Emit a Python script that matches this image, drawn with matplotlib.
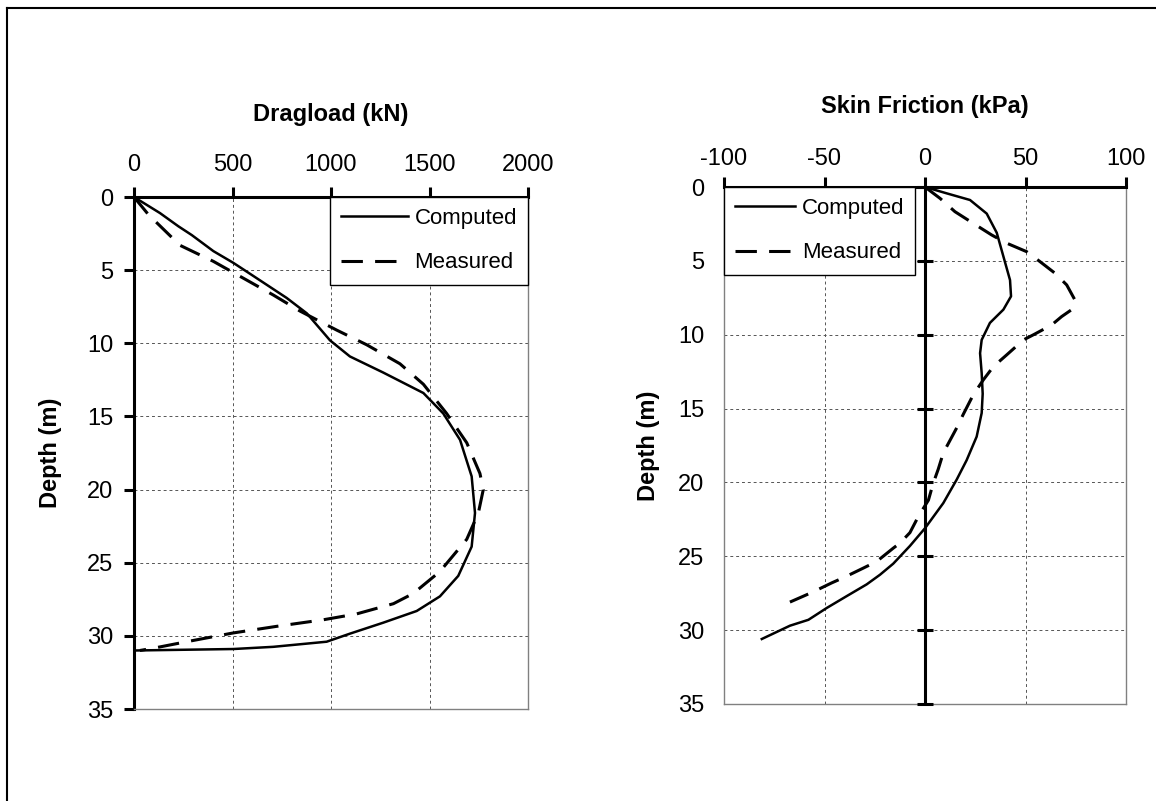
import matplotlib
matplotlib.use("Agg")
import matplotlib.pyplot as plt
from matplotlib.lines import Line2D

plt.rcParams["font.family"] = ["Liberation Sans", "DejaVu Sans"]
plt.rcParams["axes.unicode_minus"] = False

# dragload (kN) vs depth (m)
drag_comp_depth = [0, 1.1, 2.0, 2.6, 3.7, 4.5, 5.4, 6.9, 7.95, 9.8, 10.9, 12.0, 13.4, 14.8,
                   16.6, 19.1, 21.6, 23.9, 25.9, 27.3, 28.3, 29.1, 29.85, 30.4, 30.75, 30.9, 31.0]
drag_comp_load = [0, 132, 225, 293, 403, 504, 606, 775, 877, 995, 1096, 1265, 1469, 1570,
                  1655, 1714, 1731, 1714, 1646, 1553, 1435, 1265, 1096, 978, 707, 504, 5]
drag_meas_depth = [0, 1.2, 3.3, 4.4, 5.55, 6.7, 7.8, 9.1, 10.1, 11.4, 12.8, 14.8, 16.8, 18.9,
                   20.0, 21.6, 23.4, 25.6, 27.1, 27.8, 28.5, 28.9, 29.35, 29.8, 30.4, 30.8, 31.0]
drag_meas_load = [0, 73, 233, 403, 555, 707, 843, 1029, 1181, 1350, 1469, 1587, 1689, 1756,
                  1773, 1748, 1689, 1553, 1418, 1317, 1130, 961, 724, 504, 267, 115, 30]

# skin friction (kPa) vs depth (m)
fric_comp_depth = [0, 0.43, 0.88, 1.8, 3.1, 4.7, 6.3, 7.4, 8.3, 9.2, 10.35, 11.25, 12.6, 14.0,
                   15.3, 16.9, 18.5, 19.8, 21.4, 23.1, 24.3, 25.5, 26.25, 26.9, 27.7, 28.5,
                   29.3, 29.7, 30.6]
fric_comp_val = [0, 10.8, 22.4, 30.7, 35.7, 39, 42.3, 42.8, 39, 32.3, 28.2, 27.4, 28.2, 28.7,
                 28.2, 25.7, 20.7, 15.8, 9.1, 0, -7.5, -15.8, -22.4, -29, -39, -48.9,
                 -58, -67.2, -81.2]
fric_meas_depth = [0, 0.77, 1.67, 2.46, 3.25, 3.8, 4.38, 5.05, 5.84, 6.63, 7.65, 8.3, 8.77,
                   9.34, 10.0, 10.35, 11.37, 12.16, 13.06, 14.07, 15.4, 16.3, 18.0, 19.1,
                   20.05, 21.2, 22.3, 23.4, 24.1, 24.45, 25.35, 25.8, 26.4, 26.8, 27.4,
                   27.7, 28.1]
fric_meas_val = [0, 7.5, 14.9, 24, 33.2, 40.6, 50.6, 57.2, 64.7, 70.5, 74.6, 73, 68, 63, 54,
                 49, 40.6, 34, 29, 24, 19, 15.8, 9.1, 6.6, 4.1, 1.7, -3.3, -7.5, -12.4,
                 -15.8, -24, -30.7, -39.8, -46.4, -55.5, -60.5, -67.2]

depth_ticks = [0, 5, 10, 15, 20, 25, 30, 35]
drag_ticks = [0, 500, 1000, 1500, 2000]
fric_ticks = [-100, -50, 0, 50, 100]

DASH = (0, (7, 4))
GRID = dict(color="#555555", linestyle=(0, (3, 3)), linewidth=0.7)
FS = 17


def style_axes(ax, xticks, title, title_y, ylabel_x):
    ax.set_ylim(35, 0)
    ax.set_yticks(depth_ticks)
    ax.set_xticks(xticks)
    ax.xaxis.tick_top()
    ax.grid(True, **GRID)
    ax.set_axisbelow(True)
    for s in ("right", "bottom"):
        ax.spines[s].set_color("#808080")
        ax.spines[s].set_linewidth(1.0)
    ax.spines["top"].set_color("black")
    ax.spines["top"].set_linewidth(2.2)
    ax.tick_params(axis="x", top=True, bottom=False, direction="out", length=7,
                   width=2.2, labelsize=FS, pad=8)
    ax.text(0.5, title_y, title, transform=ax.transAxes, ha="center", va="center",
            fontsize=FS, fontweight="bold")
    ax.set_ylabel("Depth (m)", fontsize=FS, fontweight="bold")
    ax.yaxis.set_label_coords(ylabel_x, 0.5)


def add_legend(ax, loc, handlelength):
    leg = ax.legend(loc=loc, borderaxespad=0, fontsize=16, fancybox=False,
                    edgecolor="black", framealpha=1, handlelength=handlelength,
                    handletextpad=0.3, borderpad=0.5, labelspacing=1.05)
    leg.get_frame().set_linewidth(1.0)
    return leg


fig = plt.figure(figsize=(11.56, 8.01), dpi=100)

# left: dragload
ax1 = fig.add_axes([134 / 1156, 1 - 709 / 801, 394 / 1156, 512 / 801])
ax1.plot(drag_comp_load, drag_comp_depth, color="black", lw=1.8, label="Computed")
ax1.plot(drag_meas_load, drag_meas_depth, color="black", lw=2.2, linestyle=DASH,
         label="Measured")
ax1.set_xlim(0, 2000)
style_axes(ax1, drag_ticks, "Dragload (kN)", 1.162, -0.183)
ax1.spines["left"].set_color("black")
ax1.spines["left"].set_linewidth(2.2)
ax1.tick_params(axis="y", direction="out", length=7, width=2.2, labelsize=FS, pad=8)
add_legend(ax1, "upper right", 3.0)

# right: skin friction
ax2 = fig.add_axes([724 / 1156, 1 - 704 / 801, 402 / 1156, 517 / 801])
ax2.plot(fric_comp_val, fric_comp_depth, color="black", lw=1.8, label="Computed")
ax2.plot(fric_meas_val, fric_meas_depth, color="black", lw=2.2, linestyle=DASH,
         label="Measured")
ax2.set_xlim(-100, 100)
style_axes(ax2, fric_ticks, "Skin Friction (kPa)", 1.155, -0.159)
ax2.tick_params(axis="x", pad=5)
ax2.spines["left"].set_color("#808080")
ax2.spines["left"].set_linewidth(1.0)
ax2.tick_params(axis="y", length=0, labelsize=FS, pad=14)
# vertical axis crossing at x = 0 with its own tick marks
ax2.axvline(0, color="black", lw=2.2, zorder=3)
ax2.plot([0] * len(depth_ticks), depth_ticks, linestyle="none", marker="_",
         markersize=12, markeredgewidth=2.2, color="black", zorder=3, clip_on=False)
add_legend(ax2, "upper left", 2.7)

# outer frame (left and top edges visible)
fig.add_artist(Line2D([7 / 1156, 7 / 1156], [0, 1 - 8 / 801], color="black", lw=1.5,
                      transform=fig.transFigure))
fig.add_artist(Line2D([7 / 1156, 1], [1 - 8 / 801, 1 - 8 / 801], color="black", lw=1.5,
                      transform=fig.transFigure))

fig.savefig("out.png", dpi=100)
